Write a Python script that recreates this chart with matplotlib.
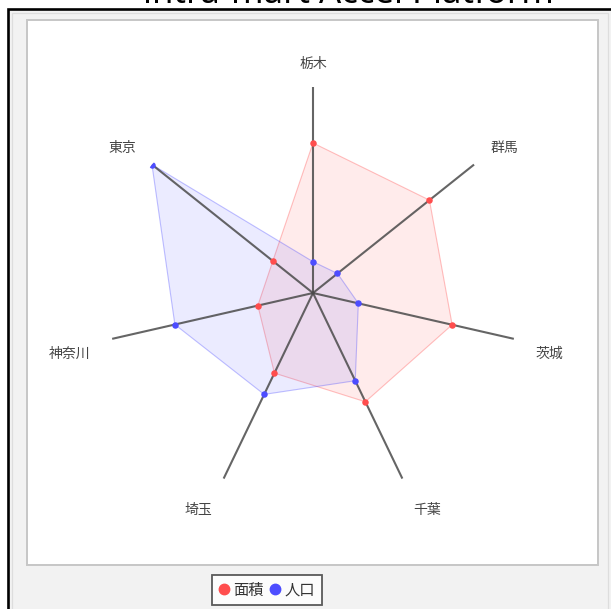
import numpy as np
import matplotlib.pyplot as plt
from matplotlib.patches import Rectangle
from matplotlib.lines import Line2D

plt.rcParams['font.family'] = ['Noto Sans CJK JP', 'DejaVu Sans']

# data
prefectures = ['栃木', '群馬', '茨城', '千葉', '埼玉', '神奈川', '東京']
area = [6408, 6362, 6097, 5158, 3798, 2416, 2194]          # km2
population = [200, 200, 297, 622, 719, 905, 1316]           # 10k people
series_names = ['面積', '人口']
area_max = 8800
population_max = 1316

W, H = 611, 609
fig = plt.figure(figsize=(W / 100, H / 100), dpi=100)
fig.patch.set_facecolor('white')


def box(x0, y0, x1, y1, **kw):
    # rectangle given in pixel coords (y down)
    r = Rectangle((x0 / W, 1 - y1 / H), (x1 - x0) / W, (y1 - y0) / H,
                  transform=fig.transFigure, zorder=-5, **kw)
    fig.patches.append(r)


# frame / panels
box(8, 9, 640, 640, facecolor='#f2f2f2', edgecolor='black', lw=1.9)
box(11.5, 12.5, 608, 640, facecolor='none', edgecolor='#dddddd', lw=0.9)
box(27, 20, 598, 565, facecolor='white', edgecolor='#c6c6c6', lw=1.4)

# title, mostly cut off by the top edge
fig.text(348 / W, 1 - 3 / H, 'intra-mart Accel Platform', fontsize=25,
         family='Noto Sans', ha='center', va='baseline', color='black')

# radar
cx, cy, R = 313, 293, 206
ax = fig.add_axes([(cx - R) / W, 1 - (cy + R) / H, 2 * R / W, 2 * R / H],
                  projection='polar')
ax.set_theta_zero_location('N')
ax.set_theta_direction(-1)
ax.set_ylim(0, 1)
ax.set_axis_off()

n = len(prefectures)
theta = np.arange(n) * 2 * np.pi / n

for t in theta:
    ax.plot([t, t], [0, 1], color='#4a4a4a', lw=1.5, alpha=0.85, zorder=3)

red = '#ff4d4d'
blue = '#4d4dff'
for vals, vmax, c in [(area, area_max, red), (population, population_max, blue)]:
    r = np.array(vals) / vmax
    tt = np.r_[theta, theta[0]]
    rr = np.r_[r, r[0]]
    ax.fill(tt, rr, facecolor=c, alpha=0.11, zorder=2)
    ax.plot(tt, rr, color=c, lw=0.8, alpha=0.35, zorder=2)
    ax.scatter(theta, r, s=22, color=c, zorder=4, linewidths=0)

# axis labels just outside each spoke
for t, name in zip(theta, prefectures):
    s, c = np.sin(t), np.cos(t)
    if abs(s) < 0.1:
        ha, ox = 'center', 0
    else:
        ha = 'left' if s > 0 else 'right'
        ox = np.sign(s) * (10 + 13 * abs(s) ** 3)
    if c > 0:
        va, oy = 'bottom', 5 + 11 * c ** 2
    else:
        va, oy = 'top', -(7 + 22 * c ** 2)
    ax.annotate(name, xy=(t, 1), xytext=(ox, oy), textcoords='offset pixels',
                ha=ha, va=va, fontsize=10, color='#444444')

handles = [Line2D([], [], marker='o', ls='', color=red, markersize=7.5),
           Line2D([], [], marker='o', ls='', color=blue, markersize=7.5)]
leg = fig.legend(handles, series_names, loc='center',
                 bbox_to_anchor=(267 / W, 1 - 590 / H), ncol=2,
                 fontsize=11, frameon=True, fancybox=False,
                 edgecolor='#333333', handlelength=0.6, handletextpad=0.3,
                 columnspacing=0.5, borderpad=0.45, labelcolor='#333333')
leg.get_frame().set_linewidth(1.3)

fig.savefig('out.png', dpi=100)
